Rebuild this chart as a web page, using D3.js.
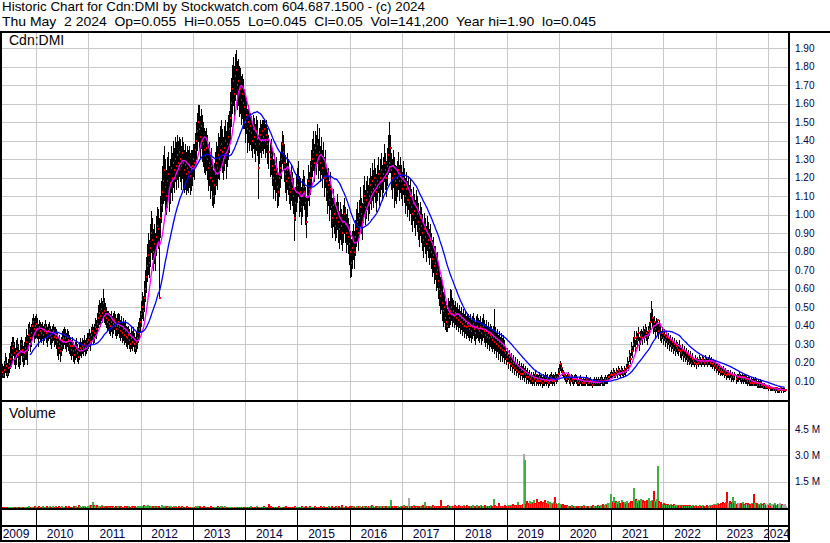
<!DOCTYPE html>
<html>
<head>
<meta charset="utf-8">
<script src="https://cdn.jsdelivr.net/npm/d3@7"></script>
<style>
  body { margin: 0; background: #fff; }
  text { font-family: "Liberation Sans", Arial, sans-serif; }
</style>
</head>
<body>
<svg id="chart" width="830" height="543"></svg>
<script>
// Header text
const title1 = "Historic Chart for Cdn:DMI by Stockwatch.com 604.687.1500 - (c) 2024";
const title2 = "Thu May  2 2024  Op=0.055  Hi=0.055  Lo=0.045  Cl=0.05  Vol=141,200  Year hi=1.90  lo=0.045";
const symbol = "Cdn:DMI";

// Weekly bars, first one on this date; prices in cents, volume in thousands
const firstWeek = new Date(2009, 4, 1);

const closes = [
  /*2009*/ 17,15,13,16,20,18,14,17,19,22,24,28,30,25,22,26,29,24,21,26,30,27,23,25,28,31,27,35,38,33,36,40,42,38,40,
  /*2010*/ 41,38,35,39,37,36,38,35,37,39,36,34,37,38,35,33,36,37,34,35,33,31,28,30,26,29,32,33,35,33,31,34,32,30,29,27,29,26,24,27,28,25,23,26,28,27,29,28,30,28,29,31,
  /*2011*/ 32,34,31,35,37,34,36,39,38,41,44,47,45,49,47,52,48,46,44,42,43,41,40,42,39,41,43,40,38,40,42,39,37,40,36,38,35,37,34,33,35,32,30,33,31,34,30,28,31,33,36,38,
  /*2012*/ 42,46,50,48,55,60,66,72,78,74,82,90,86,80,84,78,88,94,92,55,98,105,112,118,124,115,110,118,122,112,117,125,120,128,124,130,126,132,128,134,130,126,133,128,124,127,122,125,123,127,121,124,
  /*2013*/ 126,130,128,135,140,145,150,146,142,148,140,138,135,132,136,130,125,128,120,126,118,110,116,122,128,125,132,130,135,138,134,130,136,140,132,138,142,146,152,160,168,172,165,175,178,170,172,166,168,162,165,160,
  /*2014*/ 158,150,154,146,150,145,148,144,140,146,142,138,145,141,125,138,143,140,145,142,146,140,143,138,134,130,132,126,120,124,118,122,115,112,120,125,130,138,134,128,122,118,124,120,115,112,118,114,110,98,106,112,
  /*2015*/ 116,120,108,112,104,110,115,112,106,96,110,118,114,120,126,130,134,128,136,132,138,130,134,128,132,125,130,120,126,118,112,116,108,114,104,98,105,100,94,98,102,96,92,98,94,90,96,100,95,90,94,88,
  /*2016*/ 84,80,74,82,86,80,88,92,96,90,98,104,100,96,106,110,104,108,112,106,110,116,112,118,114,120,116,112,118,122,115,120,124,118,122,128,124,120,126,132,128,136,124,120,126,122,118,116,120,124,118,122,
  /*2017*/ 118,114,120,116,110,114,108,108,106,110,104,100,106,102,98,104,100,96,92,98,94,90,86,92,88,84,90,86,82,86,80,76,78,72,74,68,70,64,60,56,58,52,48,50,44,42,40,46,44,48,50,46,
  /*2018*/ 48,45,47,44,46,43,45,42,44,41,43,40,42,39,41,40,38,40,37,39,41,38,36,39,40,38,37,39,36,38,40,37,35,37,34,36,33,35,34,32,34,31,33,30,32,29,31,28,30,27,29,26,
  /*2019*/ 25,22,24,20,23,19,21,18,20,17,19,16,18,15,17,14,16,14,14,15,14,12,14,12,13,11,12,10,12,11,13,10,11,10,12,10,11,9,11,10,12,10,11,9,10,11,12,10,11,10,12,11,
  /*2020*/ 12,14,16,19,17,15,14,13,12,11,12,13,11,10,12,11,10,11,12,11,10,9,10,11,10,9,10,9,10,11,10,9,9,10,9,8,9,10,9,10,9,10,9,10,11,10,9,10,11,10,11,12,
  /*2021*/ 12,13,14,13,15,14,13,15,14,16,15,14,16,15,14,16,15,17,20,18,24,22,28,26,30,33,28,34,32,36,30,34,35,33,37,34,38,36,34,37,38,42,48,44,40,42,38,41,43,37,40,36,
  /*2022*/ 34,36,33,35,32,34,31,33,30,32,29,31,28,30,27,29,28,27,29,26,25,27,24,26,23,25,22,24,21,23,20,22,21,20,22,19,21,20,22,21,20,22,21,20,22,21,20,21,22,20,21,19,
  /*2023*/ 20,18,19,17,18,16,17,15,16,15,16,14,15,13,14,14,13,14,12,13,12,13,11,12,12,13,12,11,12,11,12,11,11,10,11,10,9,10,9,8,9,10,9,8,9,8,9,8,8,7,8,7,
  /*2024*/ 7,7,6,7,6,6,6,5,6,5,6,5,5,5,6,5,5,5,5,5
];

const highs = [
  /*2009*/ 20,19,18,21,25,23,20,22,25,29,31,34,34,31,28,32,33,30,27,32,34,32,29,31,34,38,35,41,42,39,41,44,46,44,45,
  /*2010*/ 46,44,41,43,42,41,42,40,41,43,41,39,41,42,40,38,40,41,39,39,38,36,34,35,32,34,37,38,39,38,36,38,37,35,34,32,34,31,29,31,33,30,28,31,33,31,33,32,35,32,33,36,
  /*2011*/ 36,38,36,39,41,39,41,44,43,47,51,54,52,55,53,60,55,52,50,48,48,47,46,48,45,47,48,46,44,46,47,46,43,45,42,44,42,43,40,39,40,38,36,39,37,39,36,34,37,39,42,44,
  /*2012*/ 48,53,58,56,64,70,77,84,90,86,95,102,98,92,95,90,99,104,103,98,110,118,126,132,137,130,124,131,134,126,130,137,133,140,136,142,139,143,140,142,141,137,142,139,135,138,134,137,135,137,133,135,
  /*2013*/ 135,138,138,144,150,155,159,159,153,157,154,150,147,145,147,143,138,139,134,136,130,124,128,134,139,137,144,142,148,151,146,142,148,151,145,150,154,156,166,174,181,185,180,187,189,183,184,180,179,175,176,173,
  /*2014*/ 168,165,163,157,159,155,155,153,150,154,152,149,153,151,143,147,151,149,151,151,151,149,151,147,143,139,141,136,130,133,127,131,125,122,129,134,139,145,143,138,132,128,133,130,124,122,127,123,120,114,115,122,
  /*2015*/ 125,129,121,120,115,119,124,121,115,109,119,127,123,129,135,141,145,138,145,143,149,141,147,137,142,135,139,131,135,127,123,125,118,123,115,109,114,109,105,107,111,107,102,107,103,100,105,109,104,100,103,98,
  /*2016*/ 95,91,87,91,95,91,97,103,107,101,108,115,109,106,116,121,113,118,121,116,120,125,121,128,124,130,125,122,127,131,124,130,133,127,131,138,133,129,136,143,150,143,133,130,135,131,127,126,129,134,127,131,
  /*2017*/ 127,123,129,125,120,123,118,121,116,119,114,110,115,111,108,113,110,106,102,107,104,100,96,101,98,94,99,96,92,95,90,86,88,83,83,79,80,74,70,66,67,63,58,59,53,51,49,55,53,60,59,55,
  /*2018*/ 54,51,53,50,52,49,51,48,50,47,49,46,48,45,47,46,44,46,43,45,47,44,42,45,46,44,43,45,42,44,46,43,41,43,40,42,39,41,40,38,40,49,39,36,38,35,37,34,36,33,35,32,
  /*2019*/ 29,26,28,24,27,23,25,22,24,21,23,20,22,19,21,18,20,18,19,17,18,16,17,15,16,14,15,13,15,14,16,13,14,13,15,13,14,12,14,13,15,13,14,12,13,14,15,13,14,13,15,14,
  /*2020*/ 14,17,19,21,20,17,16,15,14,13,14,15,13,12,14,13,12,13,14,13,12,11,12,13,12,11,12,11,12,13,12,11,11,12,11,10,11,12,11,12,11,12,11,12,13,12,11,12,13,12,13,14,
  /*2021*/ 14,15,16,15,17,16,15,17,16,18,17,16,18,17,16,18,17,19,23,21,27,25,31,29,34,37,32,37,36,39,34,37,38,37,40,38,41,39,37,40,42,47,53,49,44,45,42,44,43,41,43,40,
  /*2022*/ 37,39,36,38,35,37,34,36,33,35,32,34,31,33,30,32,31,30,32,29,28,30,27,29,26,28,25,27,24,26,23,25,23,22,24,22,23,22,24,23,22,24,23,22,24,23,22,23,24,22,23,21,
  /*2023*/ 22,21,21,19,20,18,19,17,18,17,18,16,17,15,16,16,15,16,14,15,14,15,13,14,14,15,14,13,14,13,14,13,13,12,13,12,11,12,11,12,11,12,11,10,11,10,11,10,9,9,9,8,
  /*2024*/ 8,8,7,8,7,7,7,6,7,6,7,6,6,6,7,6,6,6,6,5.5
];

const lows = [
  /*2009*/ 12,12,12,12,15,13,12,13,15,17,18,21,24,19,17,19,23,18,17,19,24,21,18,19,22,22,19,27,31,26,29,33,35,31,33,
  /*2010*/ 34,33,29,33,32,31,33,30,32,34,31,29,32,33,30,28,31,32,29,30,28,24,22,25,21,24,27,28,30,28,26,29,27,25,24,22,24,21,20,22,23,21,20,22,24,23,25,24,26,24,25,27,
  /*2011*/ 28,29,27,30,32,30,31,34,33,36,39,41,40,43,42,45,42,41,39,37,38,36,35,37,34,36,38,35,33,35,36,34,32,34,31,32,30,31,29,28,30,28,26,28,27,29,26,25,26,28,31,33,
  /*2012*/ 37,40,44,43,48,53,58,64,68,66,72,80,76,70,74,70,78,84,82,55,88,96,102,106,108,102,100,104,110,102,106,112,108,115,112,118,114,119,115,121,118,114,120,115,112,114,111,113,112,115,111,113,
  /*2013*/ 116,121,119,126,130,135,140,136,131,136,129,126,123,122,124,119,113,116,109,113,105,104,106,111,116,114,120,119,124,126,123,119,124,128,120,126,130,134,140,148,155,159,153,162,165,157,159,153,155,149,152,147,
  /*2014*/ 147,139,144,134,139,135,138,135,131,136,133,129,135,132,109,128,134,131,135,133,136,131,134,128,125,121,122,116,109,114,108,112,104,105,110,115,120,128,124,118,112,108,114,111,106,103,108,105,101,86,97,102,
  /*2015*/ 107,110,99,102,95,99,105,103,95,88,99,108,105,111,116,121,124,118,126,122,128,120,124,118,122,115,120,110,115,108,101,105,97,103,93,88,94,90,86,88,92,85,82,87,84,81,85,90,85,80,84,79,
  /*2016*/ 73,66,67,71,76,71,78,83,86,81,88,94,90,87,96,100,95,98,103,97,101,106,103,108,104,110,107,102,108,112,105,110,114,108,112,118,114,110,116,122,123,123,114,109,115,104,108,106,110,114,108,112,
  /*2017*/ 109,105,111,107,101,105,99,103,97,101,95,91,97,93,89,95,91,87,83,89,85,81,77,83,79,75,81,77,73,77,71,67,69,63,65,59,61,55,51,47,49,43,40,42,38,37,37,39,39,41,43,40,
  /*2018*/ 42,39,41,38,40,37,39,36,38,35,37,34,36,33,35,34,32,34,31,33,35,32,30,33,34,32,31,33,30,32,34,31,29,31,28,30,27,29,28,26,28,25,27,23,26,22,25,21,24,21,23,20,
  /*2019*/ 22,19,21,17,20,16,18,15,17,14,16,13,15,12,14,11,13,11,12,10,12,9,11,9,10,9,9,8,9,8,10,8,9,8,9,8,9,7,8,8,9,8,9,7,8,9,9,8,9,8,10,9,
  /*2020*/ 10,12,14,16,15,13,12,11,10,9,10,11,9,8,10,9,8,9,10,9,8,8,8,9,8,8,8,8,8,9,8,8,8,8,8,7,8,8,8,8,8,8,8,8,9,8,8,8,9,9,9,10,
  /*2021*/ 11,12,12,12,13,12,12,13,12,14,13,12,14,13,12,14,13,15,17,16,21,20,24,23,27,29,25,30,29,32,27,30,32,30,33,31,34,32,30,33,35,38,42,40,36,37,34,37,35,33,36,32,
  /*2022*/ 31,33,30,32,29,31,28,30,27,29,26,28,25,27,24,26,25,24,26,23,22,24,21,23,21,22,19,21,19,20,18,19,19,18,19,17,19,18,19,19,18,19,19,18,19,19,18,19,19,18,18,17,
  /*2023*/ 18,16,17,15,16,14,15,13,14,13,14,12,13,11,12,12,11,12,10,11,10,11,9,10,10,11,10,9,10,9,10,9,9,8,9,8,8,8,8,8,8,8,8,7,7,7,7,7,7,6,6,6,
  /*2024*/ 6,6,5,6,5,5,5,5,5,4,5,4,4,4,5,4,5,4,4.5,4.5
];

const volumes = [
  /*2009*/ 40,30,55,25,35,60,45,30,50,40,35,60,45,80,50,40,70,55,45,60,35,50,75,40,55,65,45,90,60,50,70,85,40,100,60,
  /*2010*/ 70,50,90,60,80,45,110,60,75,50,95,70,55,130,80,60,110,75,50,90,65,80,140,70,55,100,60,85,50,120,75,60,90,70,55,80,65,100,60,130,85,70,150,100,60,80,110,70,90,60,75,95,
  /*2011*/ 120,150,180,140,330,160,140,110,160,80,130,100,70,150,90,120,60,110,80,140,70,100,90,60,120,80,50,100,70,130,60,90,110,70,80,60,100,50,90,70,120,80,60,140,90,70,110,80,60,100,70,90,
  /*2012*/ 80,120,90,150,110,70,130,160,100,90,120,80,140,70,110,90,60,130,100,80,70,150,90,60,110,80,120,70,90,60,100,80,70,110,60,90,80,50,100,70,60,90,50,80,70,60,100,50,70,60,80,50,
  /*2013*/ 60,80,50,100,70,90,60,120,80,50,70,90,60,40,80,50,70,60,90,50,40,70,60,80,50,90,60,70,100,120,80,60,90,50,70,60,80,40,60,70,50,80,60,40,70,50,60,80,50,40,60,70,
  /*2014*/ 50,70,40,60,80,50,90,60,40,70,50,60,100,70,50,80,60,40,70,120,60,80,50,70,200,90,60,50,80,40,70,60,50,90,60,40,70,50,80,60,100,70,50,60,80,40,70,60,50,90,60,40,
  /*2015*/ 60,80,50,70,90,60,40,80,100,60,70,50,90,60,80,50,70,120,60,40,80,60,50,90,70,60,100,80,50,70,60,140,80,60,90,50,70,80,100,60,50,90,70,60,150,80,60,70,90,50,80,60,
  /*2016*/ 100,70,90,60,120,80,60,100,70,90,140,80,60,110,90,70,100,60,80,120,90,70,150,100,80,60,130,90,70,100,80,110,60,90,120,80,100,70,90,120,80,450,100,70,90,130,80,110,90,60,80,100,
  /*2017*/ 120,90,150,80,100,70,130,580,100,90,120,80,150,110,90,70,130,100,80,120,90,160,110,330,80,100,140,90,120,100,80,150,100,90,130,110,80,120,100,450,90,140,110,80,120,100,160,130,90,110,140,100,
  /*2018*/ 120,150,100,130,90,160,110,140,100,120,180,130,90,150,110,100,140,120,90,160,130,110,100,150,120,90,140,170,110,130,100,150,120,90,140,110,130,160,120,100,540,150,130,110,140,260,120,100,90,130,110,150,
  /*2019*/ 110,140,160,120,180,130,150,200,140,170,120,160,360,150,130,180,140,200,3050,2750,250,380,180,300,420,220,350,260,480,310,200,540,280,360,230,400,190,320,260,450,210,300,380,240,330,180,280,220,350,630,260,200,
  /*2020*/ 240,300,180,220,150,200,130,170,110,160,90,140,120,100,150,80,130,110,90,120,100,140,80,110,130,90,150,100,120,80,110,140,90,130,100,160,120,90,140,110,180,130,100,150,120,200,140,170,230,180,260,220,
  /*2021*/ 300,800,420,350,620,280,400,330,250,380,300,260,450,320,280,360,240,400,310,270,350,420,300,380,1150,360,500,420,300,460,380,520,340,450,300,410,360,480,320,550,400,350,460,380,950,420,360,500,2400,380,300,340,
  /*2022*/ 250,200,280,180,220,160,240,190,150,210,170,130,200,160,140,180,120,170,150,110,190,140,160,120,180,130,150,110,170,140,120,160,130,100,150,120,140,110,160,130,100,150,120,140,110,170,130,120,150,140,180,160,
  /*2023*/ 200,160,240,180,300,220,150,260,190,350,240,280,320,900,300,260,380,220,340,600,280,400,230,310,260,200,290,240,350,210,180,260,220,300,190,240,170,280,210,800,260,200,300,180,240,160,280,220,190,260,210,180,
  /*2024*/ 150,220,180,260,140,200,240,170,280,190,150,230,200,260,180,210,160,190,230,141
];

// Axis values
const priceTicks = [0.1,0.2,0.3,0.4,0.5,0.6,0.7,0.8,0.9,1.0,1.1,1.2,1.3,1.4,1.5,1.6,1.7,1.8,1.9];
const volumeTicks = [1.5e6, 3.0e6, 4.5e6];
const years = [2009,2010,2011,2012,2013,2014,2015,2016,2017,2018,2019,2020,2021,2022,2023,2024];

// moving average lengths (weeks)
const fastLen = 10;
const slowLen = 30;

const svg = d3.select("#chart");
const plotRight = 789;
const priceTop = 33, priceBottom = 400;
const volTop = 402, volBottom = 508;
const navy = "#000040";
const gridColor = "#c8c8c8";

const x = d3.scaleTime()
    .domain([new Date(2010, 0, 1), new Date(2024, 0, 1)])
    .range([36, 768]);
const y = d3.scaleLinear().domain([0.1, 1.9]).range([381, 48]);
const yVol = d3.scaleLinear().domain([0, 4.5e6]).range([volBottom, 429]);

const n = Math.min(closes.length, highs.length, lows.length, volumes.length);
const weeks = d3.range(n).map(i => ({
    date: d3.timeDay.offset(firstWeek, 7 * i),
    high: highs[i] / 100,
    low: lows[i] / 100,
    close: closes[i] / 100,
    vol: volumes[i] * 1000,
    change: i ? closes[i] - closes[i - 1] : 0
}));

// simple moving averages of the close
function movingAvg(len) {
    return weeks.map((d, i) => i < len - 1 ? null : d3.mean(weeks.slice(i - len + 1, i + 1), w => w.close));
}
const fastMA = movingAvg(fastLen);
const slowMA = movingAvg(slowLen);

const yearStarts = years.slice(1).map(yr => new Date(yr, 0, 1));

//---- header
svg.append("text").attr("x", 2).attr("y", 11).attr("font-size", 13)
    .attr("textLength", 423).attr("lengthAdjust", "spacingAndGlyphs").text(title1);
svg.append("text").attr("x", 2).attr("y", 26).attr("font-size", 13)
    .attr("textLength", 594).attr("lengthAdjust", "spacingAndGlyphs")
    .style("white-space", "pre").text(title2);

//---- grids
const grid = svg.append("g").attr("shape-rendering", "crispEdges");

grid.append("g")
    .attr("transform", `translate(${plotRight},0)`)
    .attr("color", gridColor)
    .call(d3.axisLeft(y).tickValues(priceTicks).tickSize(plotRight).tickFormat(""))
    .call(g => g.select(".domain").remove());

grid.append("g")
    .attr("transform", `translate(0,${priceTop})`)
    .attr("color", gridColor)
    .call(d3.axisBottom(x).tickValues(yearStarts).tickSize(priceBottom - priceTop).tickFormat(""))
    .call(g => g.select(".domain").remove());

grid.append("g")
    .attr("transform", `translate(${plotRight},0)`)
    .attr("color", gridColor)
    .call(d3.axisLeft(yVol).tickValues(volumeTicks).tickSize(plotRight).tickFormat(""))
    .call(g => g.select(".domain").remove());

grid.append("g")
    .attr("transform", `translate(0,${volTop})`)
    .attr("color", gridColor)
    .call(d3.axisBottom(x).tickValues(yearStarts).tickSize(volBottom - volTop).tickFormat(""))
    .call(g => g.select(".domain").remove());

// date rows separators
grid.append("g")
    .attr("transform", `translate(0,${volBottom})`)
    .attr("color", "#000")
    .call(d3.axisBottom(x).tickValues(yearStarts).tickSize(33).tickFormat(""))
    .call(g => g.select(".domain").remove());

//---- price bars (each bar: high-low line, then its close mark;
// the next bar paints over part of the mark where the ranges overlap)
const clipP = svg.append("clipPath").attr("id", "clipPrice");
clipP.append("rect").attr("x", 2).attr("y", priceTop).attr("width", plotRight - 3).attr("height", priceBottom - priceTop);

const price = svg.append("g").attr("clip-path", "url(#clipPrice)");
const bars = price.append("g").attr("shape-rendering", "crispEdges")
  .selectAll("g.bar")
  .data(weeks)
  .join("g")
    .attr("class", "bar")
    .attr("transform", d => `translate(${Math.round(x(d.date))},0)`);

bars.append("rect")
    .attr("x", 0)
    .attr("y", d => Math.round(y(d.high)))
    .attr("width", 1)
    .attr("height", d => Math.round(y(d.low)) - Math.round(y(d.high)) + 1)
    .attr("fill", "#000");

bars.append("rect")
    .attr("x", 0)
    .attr("y", d => Math.round(y(d.close)) - 1)
    .attr("width", 2).attr("height", 2)
    .attr("fill", "#ff0000");

const maLine = ma => d3.line()
    .defined((d, i) => ma[i] != null)
    .x(d => x(d.date))
    .y((d, i) => y(ma[i]));

price.append("path")
    .attr("d", maLine(fastMA)(weeks))
    .attr("fill", "none").attr("stroke", "#ff00ff").attr("stroke-width", 1.3);
price.append("path")
    .attr("d", maLine(slowMA)(weeks))
    .attr("fill", "none").attr("stroke", "#0000ff").attr("stroke-width", 1.3);

svg.append("text").attr("x", 9).attr("y", 45).attr("font-size", 14).text(symbol);

//---- volume bars
svg.append("g").attr("shape-rendering", "crispEdges")
  .selectAll("rect")
  .data(weeks)
  .join("rect")
    .attr("x", d => Math.round(x(d.date)))
    .attr("y", d => Math.round(yVol(d.vol)))
    .attr("width", 1.6)
    .attr("height", d => Math.max(1, volBottom - Math.round(yVol(d.vol))))
    .attr("fill", d => d.change > 0 ? "#3cb043" : d.change < 0 ? "#ff0000" : "#a8a8a8");

svg.append("text").attr("x", 9).attr("y", 418).attr("font-size", 14).text("Volume");

//---- right axes
svg.append("g")
    .attr("transform", `translate(${plotRight},0)`)
    .attr("color", navy)
    .attr("font-size", 12)
    .call(d3.axisRight(y).tickValues(priceTicks).tickSize(0).tickPadding(6).tickFormat(d3.format(".2f")))
    .call(g => g.select(".domain").remove());

svg.append("g")
    .attr("transform", `translate(${plotRight},0)`)
    .attr("color", navy)
    .attr("font-size", 12)
    .call(d3.axisRight(yVol).tickValues(volumeTicks).tickSize(0).tickPadding(6)
        .tickFormat(d => d3.format(".1f")(d / 1e6) + " M"))
    .call(g => g.select(".domain").remove());
svg.selectAll("g[font-family]").attr("font-family", null);

//---- year labels
svg.append("g").selectAll("text")
  .data(years)
  .join("text")
    .attr("x", yr => {
        const a = Math.max(0, x(new Date(yr, 0, 1)));
        const b = Math.min(plotRight, x(new Date(yr + 1, 0, 1)));
        return (a + b) / 2 - 2;
    })
    .attr("y", 538)
    .attr("text-anchor", "middle")
    .attr("font-size", 12)
    .attr("fill", navy)
    .text(yr => yr);

//---- frame lines
const frame = svg.append("g").attr("stroke", "#000").attr("stroke-width", 2).attr("shape-rendering", "crispEdges");
frame.append("line").attr("x1", 0).attr("x2", 830).attr("y1", 32).attr("y2", 32);
frame.append("line").attr("x1", 1).attr("x2", 1).attr("y1", 31).attr("y2", 542);
frame.append("line").attr("x1", plotRight).attr("x2", plotRight).attr("y1", 31).attr("y2", 542);
frame.append("line").attr("x1", 0).attr("x2", plotRight).attr("y1", 401).attr("y2", 401);
frame.append("line").attr("x1", 0).attr("x2", plotRight).attr("y1", 509).attr("y2", 509);
frame.append("line").attr("x1", 0).attr("x2", plotRight).attr("y1", 526).attr("y2", 526);
frame.append("line").attr("x1", 0).attr("x2", plotRight).attr("y1", 541).attr("y2", 541);
</script>
</body>
</html>
